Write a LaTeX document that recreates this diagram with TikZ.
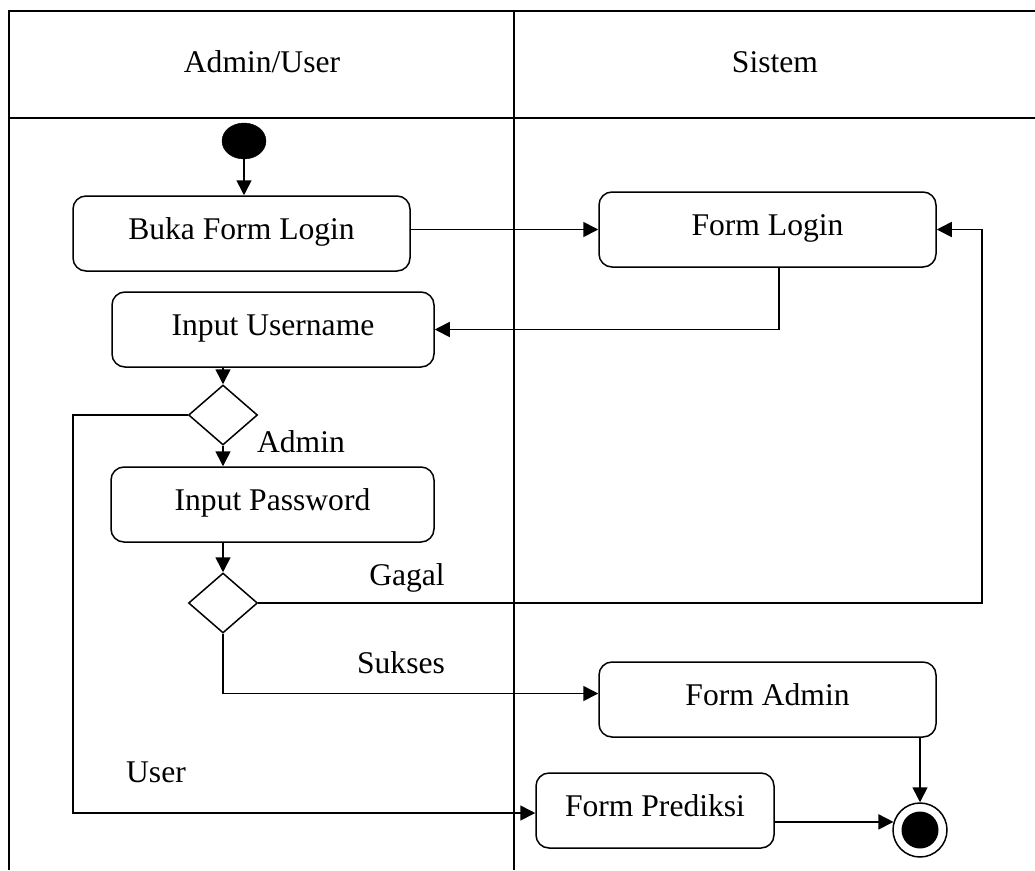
\documentclass[tikz,border=0pt]{standalone}
\usepackage{fontspec}
\setmainfont{Liberation Serif}
\usetikzlibrary{arrows.meta,shapes.geometric,calc}
\begin{document}
\begin{tikzpicture}[x=1pt,y=-1pt,
  every node/.style={font=\fontsize{31.6}{36}\selectfont},
  grid/.style={line width=2pt},
  act/.style={draw,line width=1.5pt,rounded corners=13pt,minimum height=75pt,inner sep=0pt,text height=20pt,text depth=9pt},
  dec/.style={draw,diamond,line width=1.5pt,minimum width=69pt,minimum height=60pt,inner sep=0pt,aspect=1.15},
  conn/.style={line width=1.6pt,-{Triangle[length=15pt,width=15pt]}},
  line/.style={line width=1.6pt},
  lbl/.style={anchor=base,inner sep=0pt}]
\useasboundingbox (0,0) rectangle (1035,870);
% lanes
\coordinate (tl) at (9,10.5);
\coordinate (tr) at (1035,10.5);
\coordinate (hl) at (9,118);
\coordinate (hr) at (1035,118);
\coordinate (bl) at (9,870);
\coordinate (dt) at (514,10.5);
\coordinate (db) at (514,870);
\draw[grid] (tr) -- (tl) -- (bl);
\draw[grid] (hl) -- (hr);
\draw[grid] (dt) -- (db);
\node[lbl] (h1) at (262,72) {Admin/User};
\node[lbl] (h2) at (775,72) {Sistem};
% nodes
\node[draw,fill=black,ellipse,minimum width=44pt,minimum height=36pt,inner sep=0pt] (init) at (244,141) {};
\node[act,minimum width=337pt] (buka) at (241.5,233.5) {Buka Form Login};
\node[act,minimum width=337pt] (login) at (767.5,229.5) {Form Login};
\node[act,minimum width=322pt] (user) at (273,329.5) {Input Username};
\node[dec] (d1) at (223,415) {};
\node[act,minimum width=323pt] (pass) at (272.5,504.5) {Input Password};
\node[dec] (d2) at (223,603) {};
\node[act,minimum width=337pt] (admin) at (767.5,699.5) {Form Admin};
\node[act,minimum width=238pt] (pred) at (655,810.5) {Form Prediksi};
\node[draw,circle,line width=1.5pt,minimum size=54pt,inner sep=0pt] (final) at (920,830) {};
\node[fill=black,circle,minimum size=37pt,inner sep=0pt] (finalin) at (final) {};
% labels
\node[lbl] (ladmin) at (301,452) {Admin};
\node[lbl] (lgagal) at (407,585) {Gagal};
\node[lbl] (lsukses) at (401,673) {Sukses};
\node[lbl] (luser) at (156,782) {User};
% helper coordinates
\coordinate (gr) at (982,603);
\coordinate (ul) at (73,415);
% connectors
\draw[conn] (init) -- (init |- buka.north);
\draw[conn] (buka.east |- login.west) -- (login.west);
\draw[conn] ([xshift=11.5pt]login.south) |- (user.east);
\draw[conn] (d1 |- user.south) -- (d1.north);
\draw[conn] (d1.south) -- (d1 |- pass.north);
\draw[conn] (d2 |- pass.south) -- (d2.north);
\draw[conn] (d2.east) -- (gr) |- (login.east);
\draw[conn] (d2.south) |- ([yshift=6pt]admin.west);
\draw[conn] (d1.west) -- (ul) |- ([yshift=-2.5pt]pred.west);
\draw[conn] (final |- admin.south) -- (final.north);
\draw[conn] (pred.east |- final.163) -- (final.163);
\end{tikzpicture}
\end{document}
